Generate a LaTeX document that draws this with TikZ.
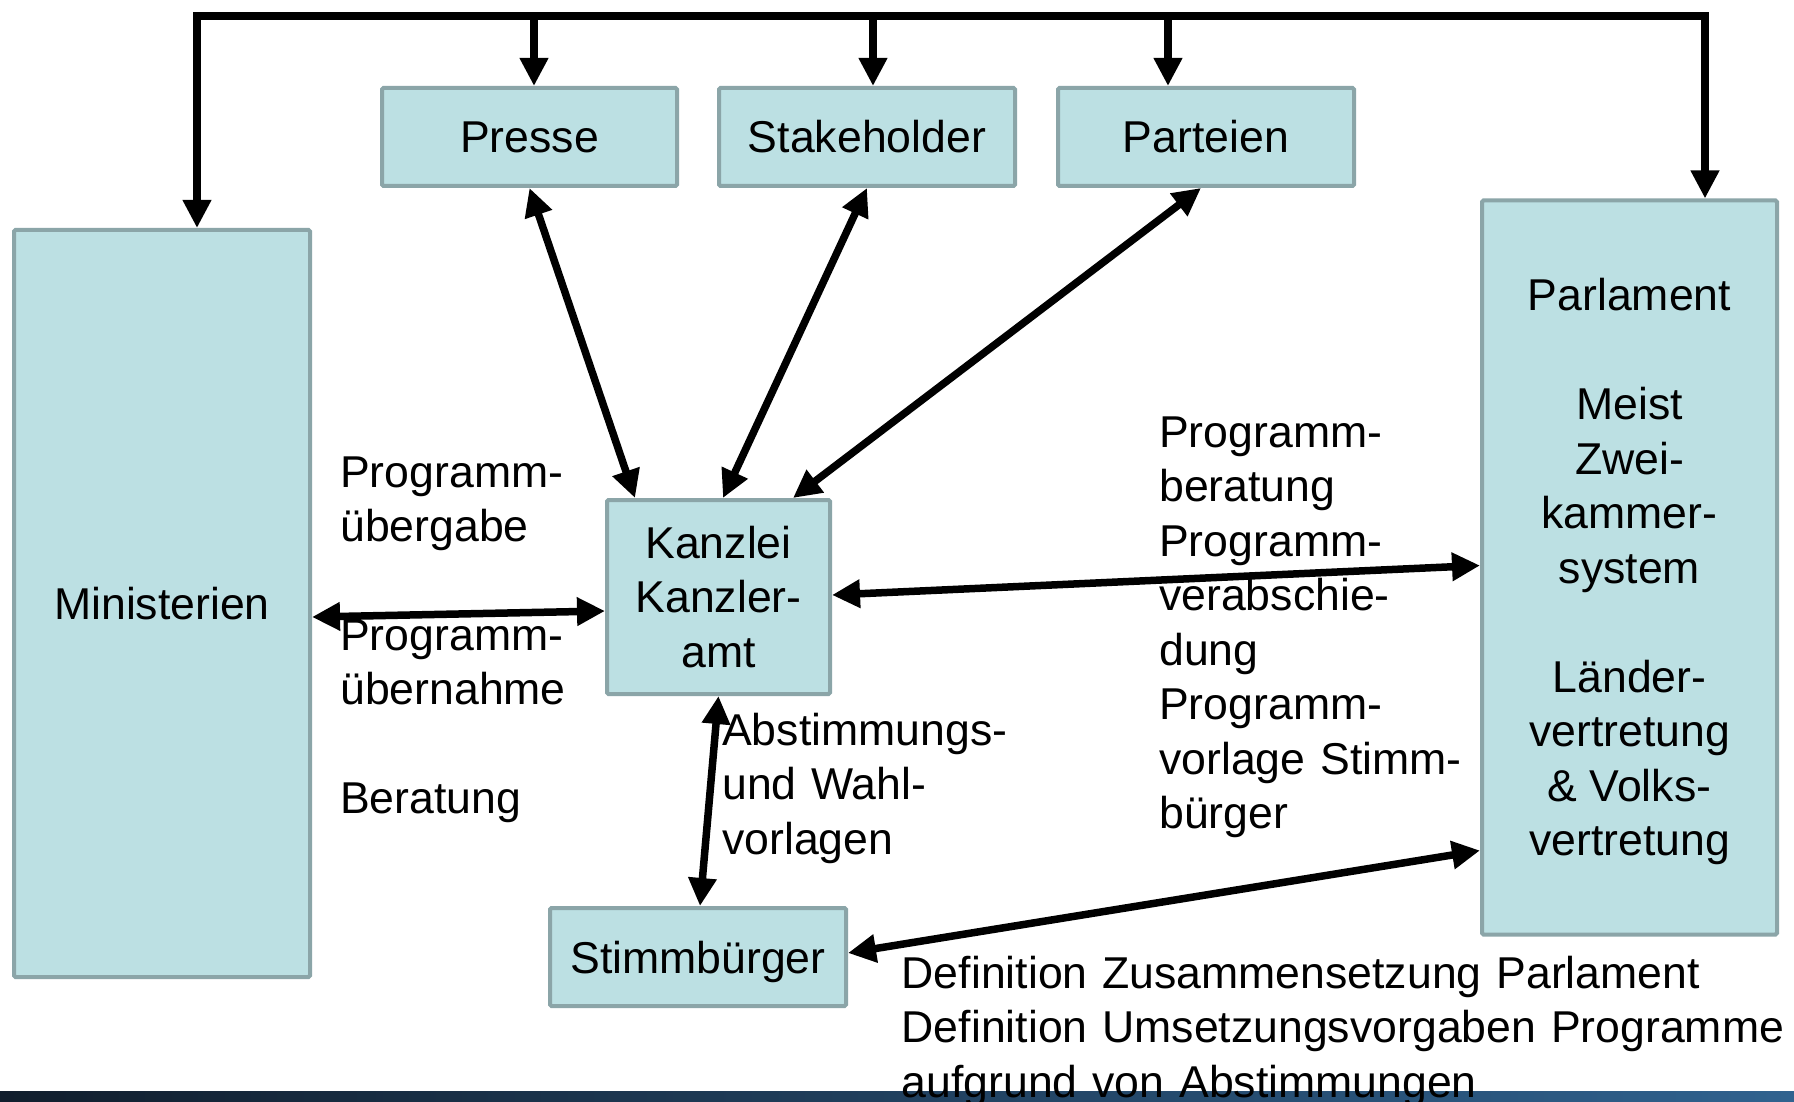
\documentclass[tikz,border=0pt]{standalone}
\usepackage{fontspec}
\setmainfont{Liberation Sans}
\usetikzlibrary{arrows.meta}
\definecolor{boxfill}{HTML}{BCE0E3}
\definecolor{boxline}{HTML}{8BA5A8}
\definecolor{barleft}{HTML}{111E2D}
\definecolor{barright}{HTML}{30628F}
\begin{document}
\begin{tikzpicture}[x=1pt,y=-1pt,
  every node/.style={font=\fontsize{44.6pt}{54.5pt}\selectfont, inner sep=0pt},
  box/.style={draw=boxline, fill=boxfill, line width=4pt, rounded corners=1.5pt, align=center},
  onebox/.style={box, text height=32pt, text depth=0pt},
  txt/.style={anchor=base west, align=left, text width=#1},
  link/.style={line width=7.5pt, {Triangle[length=28pt,width=27pt]}-{Triangle[length=28pt,width=27pt]}},
  feed/.style={line width=8pt, -{Triangle[length=28pt,width=27pt]}}
]
% canvas
\fill[white] (0,0) rectangle (1794,1102);
\useasboundingbox (0,0) rectangle (1794,1102);

% boxes
\node[onebox, minimum width=296pt, minimum height=747pt] (min) at (162,603.5) {Ministerien};
\node[onebox, minimum width=295pt, minimum height=98pt] (presse) at (529.5,137) {Presse};
\node[onebox, minimum width=296pt, minimum height=98pt] (stake) at (867,137) {Stakeholder};
\node[onebox, minimum width=296pt, minimum height=98pt] (partei) at (1206,137) {Parteien};
\node[box, minimum width=295pt, minimum height=734pt] (parl) at (1629.5,567.5)
  {\rule{0pt}{41pt}Parlament\\\mbox{}\\Meist\\Zwei-\\kammer-\\system\\\mbox{}\\Länder-\\vertretung\\\& Volks-\\vertretung};
\node[box, minimum width=223pt, minimum height=194pt] (kanz) at (718.5,597) {Kanzlei\\Kanzler-\\amt};
\node[onebox, minimum width=296pt, minimum height=98pt] (stimm) at (698,957) {Stimmbürger};

% labels
\node[txt=320pt] (lUebergabe) at (340,487) {Programm-\\übergabe};
\node[txt=320pt] (lUebernahme) at (340,650) {Programm-\\übernahme\\\mbox{}\\Beratung};
\node[txt=320pt] (lAbst) at (722,745) {Abstimmungs-\\und Wahl-\\vorlagen};
\node[txt=330pt] (lProg) at (1159,447)
  {Programm-\\beratung\\Programm-\\verabschie-\\dung\\Programm-\\vorlage Stimm-\\bürger};

% bottom bar
\shade[left color=barleft, right color=barright] (0,1091) rectangle (1794,1102);
\node[txt=900pt] (lDef) at (901.5,988)
  {Definition Zusammensetzung Parlament\\Definition Umsetzungsvorgaben Programme\\aufgrund von Abstimmungen};

% distribution bus along the top
\coordinate (busL) at (197,16);
\coordinate (busR) at (1705,16);
\draw[line width=8pt, line join=miter, {Triangle[length=28pt,width=27pt]}-{Triangle[length=28pt,width=27pt]}]
  (busL |- min.north) -- (busL) -- (busR) -- (busR |- parl.north);
\coordinate (dPresse) at ([xshift=4.5pt]presse.north);
\coordinate (dStake) at ([xshift=6pt]stake.north);
\coordinate (dPartei) at ([xshift=-38pt]partei.north);
\draw[feed] (dPresse |- busL) -- (dPresse);
\draw[feed] (dStake |- busL) -- (dStake);
\draw[feed] (dPartei |- busL) -- (dPartei);

% two-way links
\draw[link] (presse.south) -- ([xshift=30pt]kanz.north west);
\draw[link] (stake.south) -- ([xshift=4.5pt]kanz.north);
\draw[link] ([xshift=-5pt]partei.south) -- ([xshift=-39pt]kanz.north east);
\draw[link] ([yshift=-13.5pt]min.east) -- ([yshift=-14pt]kanz.west);
\draw[link] ([yshift=2pt]kanz.east) -- ([yshift=2pt]parl.west);
\draw[link] (kanz.south) -- ([xshift=2pt]stimm.north);
\draw[link] ([yshift=4pt]stimm.east) -- ([yshift=-283pt]parl.west);
\end{tikzpicture}
\end{document}
